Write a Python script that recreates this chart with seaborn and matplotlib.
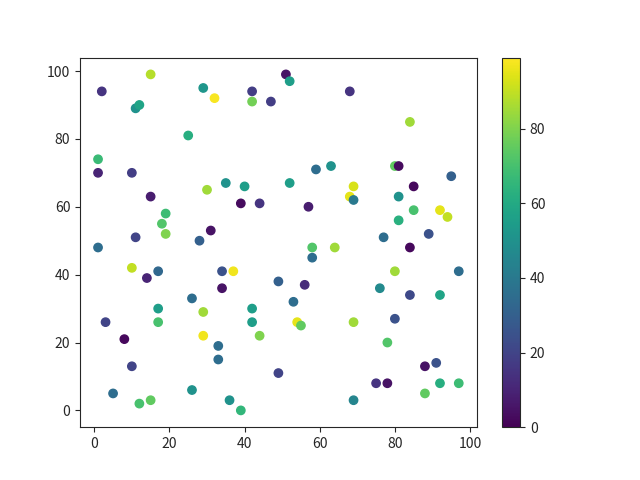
import numpy as np
import pandas as pd
import matplotlib
matplotlib.use("Agg")
import matplotlib.pyplot as plt
import seaborn as sns

# ---------------------------------------------
# Data
# ---------------------------------------------
x_vals = [2, 15, 11, 12, 29, 32, 42, 42, 47, 51, 52, 68, 84, 25, 1, 1, 10, 15, 30, 35,
          40, 39, 44, 52, 59, 63, 57, 69, 68, 69, 80, 81, 81, 85, 95, 81, 85, 92, 94, 18,
          19, 19, 11, 1, 14, 17, 10, 28, 31, 34, 37, 34, 26, 17, 17, 29, 29, 42, 42, 44,
          33, 33, 3, 8, 10, 5, 12, 15, 26, 36, 39, 49, 56, 53, 54, 55, 49, 58, 58, 64,
          69, 69, 77, 76, 80, 84, 84, 89, 97, 92, 78, 80, 75, 78, 88, 91, 92, 97, 88]
y_vals = [94, 99, 89, 90, 95, 92, 94, 91, 91, 99, 97, 94, 85, 81, 74, 70, 70, 63, 65, 67,
          66, 61, 61, 67, 71, 72, 60, 66, 63, 62, 72, 72, 63, 66, 69, 56, 59, 59, 57, 55,
          58, 52, 51, 48, 39, 41, 42, 50, 53, 41, 41, 36, 33, 30, 26, 29, 22, 30, 26, 22,
          19, 15, 26, 21, 13, 5, 2, 3, 6, 3, 0, 38, 37, 32, 26, 25, 11, 48, 45, 48,
          26, 3, 51, 36, 41, 48, 34, 52, 41, 34, 20, 27, 8, 8, 13, 14, 8, 8, 5]
c_vals = [15, 88, 50, 58, 52, 98, 18, 78, 18, 5, 55, 15, 85, 62, 67, 10, 18, 8, 85, 50,
          55, 3, 15, 55, 35, 50, 8, 93, 95, 40, 75, 3, 50, 2, 30, 63, 70, 95, 90, 72,
          68, 80, 20, 35, 10, 33, 90, 30, 5, 25, 97, 5, 35, 55, 70, 85, 97, 55, 55, 80,
          35, 35, 20, 2, 20, 35, 70, 75, 50, 50, 65, 30, 12, 35, 95, 75, 20, 72, 35, 85,
          85, 45, 35, 47, 85, 2, 22, 25, 35, 58, 72, 25, 15, 5, 5, 25, 62, 68, 75]

df = pd.DataFrame({"x": x_vals, "y": y_vals, "c": c_vals})

sns.set_style("ticks")
plt.rcParams["font.family"] = ["Noto Sans CJK SC", "DejaVu Sans"]

fig, ax = plt.subplots(figsize=(6.4, 4.8), dpi=100)
norm = plt.Normalize(0, 99)
sns.scatterplot(data=df, x="x", y="y", hue="c", palette="viridis", hue_norm=norm,
                s=36, linewidth=1, edgecolor="face", legend=False, ax=ax)
ax.set_xlabel("")
ax.set_ylabel("")
ax.set_xticks([0, 20, 40, 60, 80, 100])
ax.set_yticks([0, 20, 40, 60, 80, 100])
for side in ax.spines.values():
    side.set_visible(True)

sm = plt.cm.ScalarMappable(cmap="viridis", norm=norm)
sm.set_array([])
fig.colorbar(sm, ax=ax)

fig.savefig("out.png", dpi=100)
